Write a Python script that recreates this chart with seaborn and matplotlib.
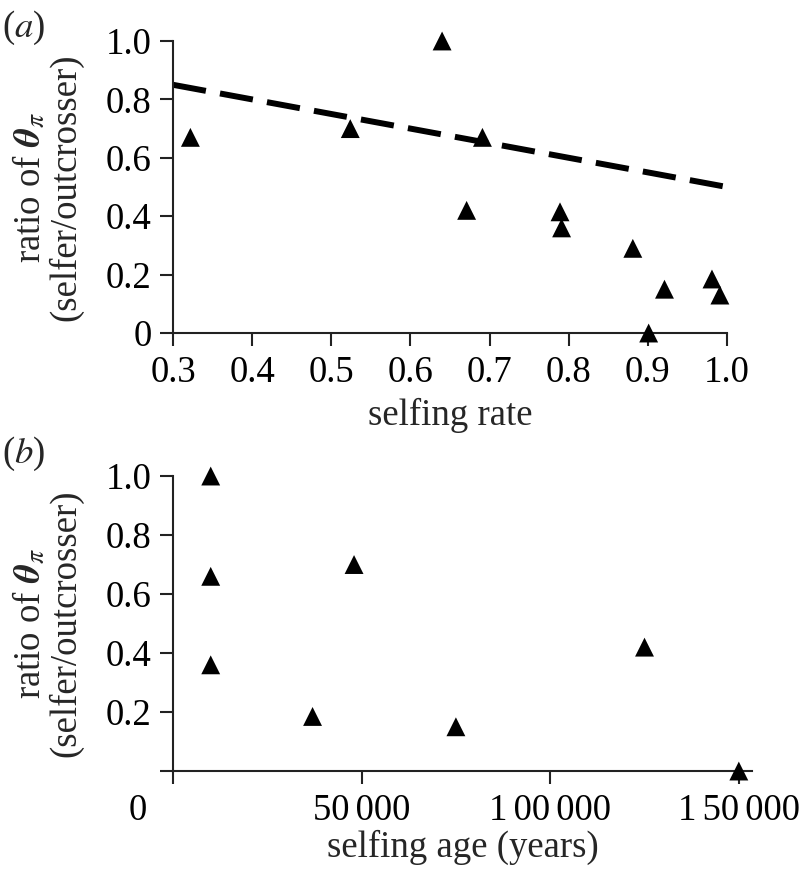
import matplotlib
matplotlib.use("Agg")
import matplotlib.pyplot as plt
import matplotlib.transforms as mtransforms
import pandas as pd
import seaborn as sns

# --- dados painel (a): taxa de autofecundação ---
rate_x = [0.322, 0.524, 0.640, 0.691, 0.671, 0.789, 0.791, 0.881, 0.921, 0.901, 0.981, 0.991]
rate_y = [0.67, 0.70, 1.00, 0.67, 0.42, 0.415, 0.36, 0.29, 0.15, 0.0, 0.185, 0.13]
# linha tracejada (extremos)
exp_x = [0.3, 1.0]
exp_y = [0.85, 0.50]

# --- dados painel (b): idade da autofecundação ---
age_x = [10000, 10000, 10000, 37000, 48000, 75000, 125000, 150000]
age_y = [1.00, 0.66, 0.36, 0.185, 0.70, 0.15, 0.42, 0.0]

rate_ticks = [0.3, 0.4, 0.5, 0.6, 0.7, 0.8, 0.9, 1.0]
rate_labels = ["0.3", "0.4", "0.5", "0.6", "0.7", "0.8", "0.9", "1.0"]
ratio_ticks = [0, 0.2, 0.4, 0.6, 0.8, 1.0]
ratio_labels_a = ["0", "0.2", "0.4", "0.6", "0.8", "1.0"]
ratio_labels_b = ["", "0.2", "0.4", "0.6", "0.8", "1.0"]
age_ticks = [0, 50000, 100000, 150000]
age_labels = ["0", "50\u2006000", "1\u200600\u2006000", "1\u200650\u2006000"]

df_a = pd.DataFrame({"rate": rate_x, "ratio": rate_y})
df_b = pd.DataFrame({"age": age_x, "ratio": age_y})
df_line = pd.DataFrame({"rate": exp_x, "ratio": exp_y})

sns.set_style("ticks")
plt.rcParams["font.family"] = ["Liberation Serif", "DejaVu Serif"]
plt.rcParams["mathtext.fontset"] = "stix"
plt.rcParams["axes.linewidth"] = 1.5
plt.rcParams["xtick.major.width"] = 1.5
plt.rcParams["ytick.major.width"] = 1.5
plt.rcParams["xtick.major.size"] = 9.5
plt.rcParams["ytick.major.size"] = 9.5
plt.rcParams["axes.edgecolor"] = "#222222"

FS = 26.5
ylab = "ratio of $\\boldsymbol{\\theta}_{\\pi}$\n(selfer/outcrosser)"

fig = plt.figure(figsize=(7.99, 8.72), dpi=100)
ax1 = fig.add_axes([0.2165, 0.6181, 0.6934, 0.3349])
ax2 = fig.add_axes([0.2165, 0.1158, 0.7247, 0.3383])

# painel (a)
sns.lineplot(data=df_line, x="rate", y="ratio", ax=ax1, color="black",
             linewidth=4.3, linestyle=(0, (5.6, 2.4)), legend=False)
sns.scatterplot(data=df_a, x="rate", y="ratio", ax=ax1, marker="^", s=185,
                color="black", edgecolor="none", clip_on=False, zorder=5)
ax1.set_xlim(0.3, 1.0)
ax1.set_ylim(0, 1.0)
ax1.set_xticks(rate_ticks)
ax1.set_xticklabels(rate_labels)
ax1.set_yticks(ratio_ticks)
ax1.set_yticklabels(ratio_labels_a)
ax1.set_xlabel("selfing rate", fontsize=FS, labelpad=5)
ax1.set_ylabel(ylab, fontsize=FS, linespacing=1.0, labelpad=16)

# painel (b)
sns.scatterplot(data=df_b, x="age", y="ratio", ax=ax2, marker="^", s=185,
                color="black", edgecolor="none", clip_on=False, zorder=5)
ax2.set_xlim(0, 153500)
ax2.set_ylim(0, 1.0)
ax2.set_xticks(age_ticks)
ax2.set_xticklabels(age_labels)
ax2.set_yticks(ratio_ticks)
ax2.set_yticklabels(ratio_labels_b)
ax2.set_xlabel("selfing age (years)", fontsize=FS, labelpad=1)
ax2.set_ylabel(ylab, fontsize=FS, linespacing=1.0, labelpad=16)

for ax in (ax1, ax2):
    sns.despine(ax=ax)
    ax.tick_params(labelsize=FS, colors="#222222", labelcolor="black")
    ax.tick_params(axis="x", pad=7)
    ax.tick_params(axis="y", pad=6)

# rótulo "0" deslocado para a esquerda, como no original
zero = ax2.xaxis.get_major_ticks()[0].label1
zero.set_transform(zero.get_transform() +
                   mtransforms.ScaledTranslation(-0.35, 0, fig.dpi_scale_trans))

fig.text(0.003, 0.99, "($a$)", fontsize=FS, va="top", ha="left")
fig.text(0.003, 0.502, "($b$)", fontsize=FS, va="top", ha="left")

fig.savefig("out.png", dpi=100)
